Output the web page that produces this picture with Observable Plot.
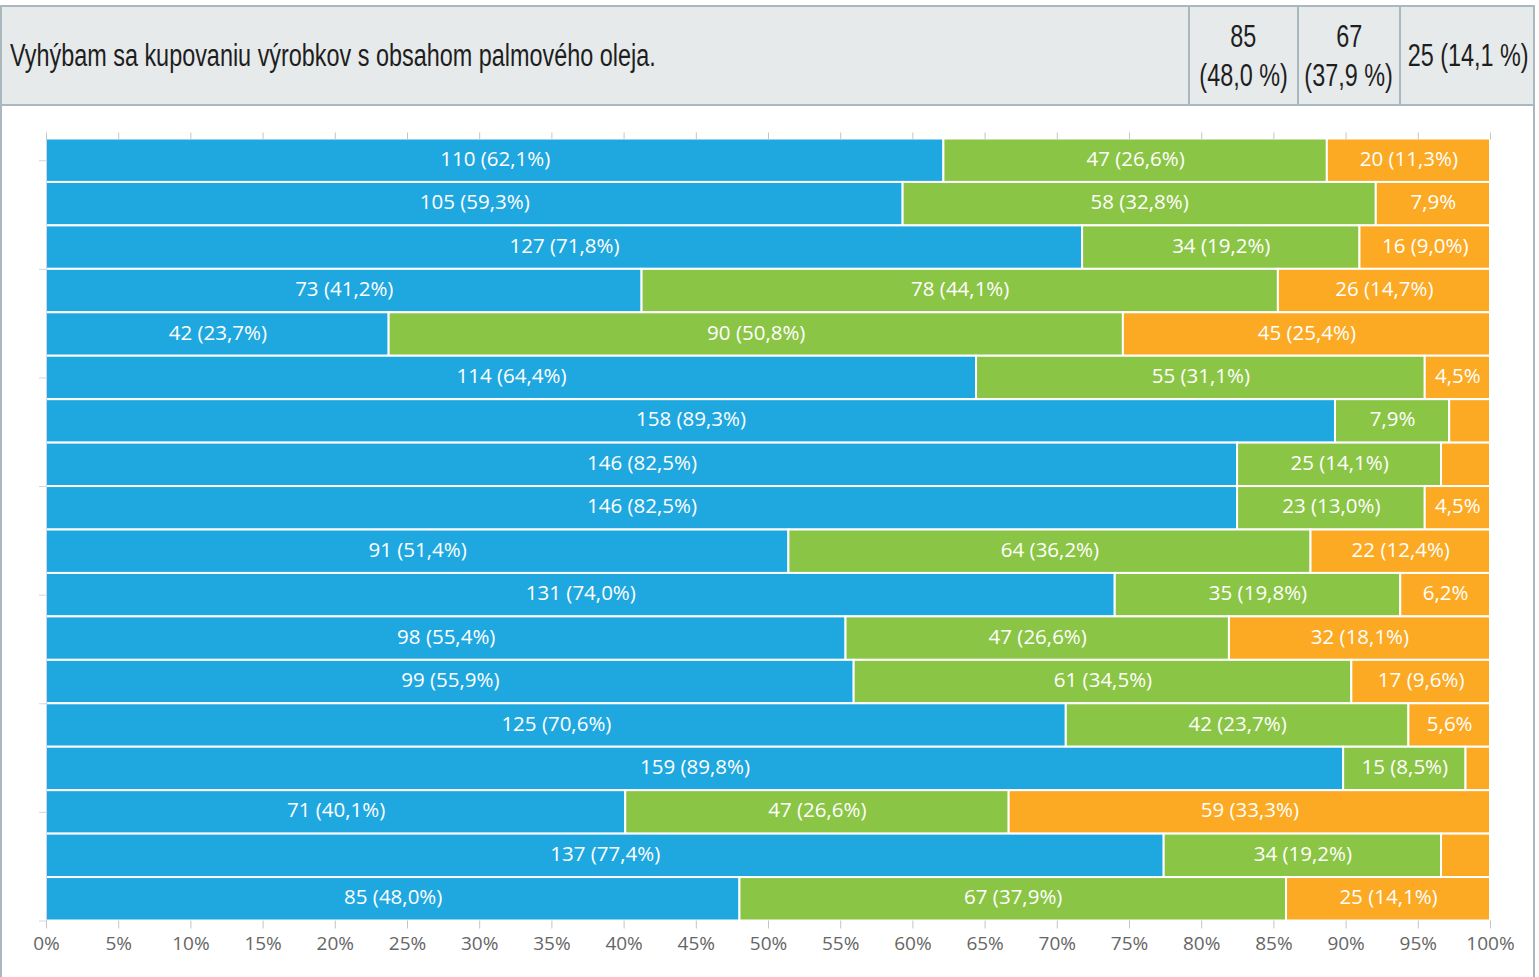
<!DOCTYPE html>
<html>
<head>
<meta charset="utf-8">
<script src="https://cdn.jsdelivr.net/npm/d3@7"></script>
<script src="https://cdn.jsdelivr.net/npm/@observablehq/plot@0.6"></script>
<style>
  html, body { margin: 0; padding: 0; background: #fff; }
  body { width: 1539px; height: 977px; position: relative; overflow: hidden; }
  .frame { position: absolute; left: 0; top: 5px; height: 980px; width: 1535px;
           border-left: 2px solid #a9b8bd; border-right: 2px solid #a9b8bd; border-top: 2px solid #a9b8bd; box-sizing: border-box; }
  .header { position: absolute; left: 0; top: 0; width: 1531px; height: 99px; background: #e6eaeb;
            border-bottom: 2px solid #a9b8bd; box-sizing: border-box; }
  .cell { position: absolute; top: 0; height: 97px; display: flex; align-items: center;
          font-family: "Liberation Sans", sans-serif; color: #1e1e1e; font-size: 31px; line-height: 39px; }
  .sep { border-left: 2px solid #a9b8bd; justify-content: center; text-align: center; }
  .line { display: block; white-space: nowrap; }
  .sq { display: inline-block; white-space: nowrap; transform-origin: center center; }
  #q .sq { transform-origin: left center; }
  #chart { position: absolute; left: 0; top: 99px; }
</style>
</head>
<body>
<div class="frame">
  <div class="header">
    <div class="cell" id="q" style="left:8px;width:1178px;"></div>
    <div class="cell sep" id="c1" style="left:1186px;width:107px;"></div>
    <div class="cell sep" id="c2" style="left:1295px;width:100px;"></div>
    <div class="cell sep" id="c3" style="left:1397px;width:134px;"></div>
  </div>
  <div id="chart"></div>
</div>
<script>
const question = "Vyhýbam sa kupovaniu výrobkov s obsahom palmového oleja.";
const answerA = [110,105,127,73,42,114,158,146,146,91,131,98,99,125,159,71,137,85];
const answerB = [47,58,34,78,90,55,14,25,23,64,35,47,61,42,15,47,34,67];
const answerC = [20,14,16,26,45,8,5,6,8,22,11,32,17,10,3,59,6,25];
const seriesNames = ["A","B","C"];
const seriesColors = ["#1fa8df","#8bc545","#fca923"];
const xTicks = d3.range(0, 101, 5);
const yTicks = [0.5, 3, 5.5, 8, 10.5, 13, 15.5, 18];

const fmt = v => v.toFixed(1).replace(".", ",");

const segments = [];
answerA.forEach((a, i) => {
  const vals = [a, answerB[i], answerC[i]];
  const total = d3.sum(vals);
  let cum = 0;
  vals.forEach((v, k) => {
    const p = v / total * 100;
    const label = p >= 8.2 ? `${v} (${fmt(p)}%)` : p >= 4 ? `${fmt(p)}%` : "";
    segments.push({row: i, series: seriesNames[k], x1: cum, x2: cum + p, label, v, p});
    cum += p;
  });
});

// header (condensed look: horizontally squeezed text)
const SQ = 0.755;
const sq = t => `<span class="sq" style="transform:scaleX(${SQ})">${t}</span>`;
document.getElementById("q").innerHTML = sq(question);
const last = answerA.length - 1;
const lastVals = [answerA[last], answerB[last], answerC[last]];
const lastTotal = d3.sum(lastVals);
const hdr = lastVals.map(v => ({v, p: fmt(v / lastTotal * 100)}));
document.getElementById("c1").innerHTML = `<div><span class="line">${sq(hdr[0].v)}</span><span class="line">${sq("(" + hdr[0].p + " %)")}</span></div>`;
document.getElementById("c2").innerHTML = `<div><span class="line">${sq(hdr[1].v)}</span><span class="line">${sq("(" + hdr[1].p + " %)")}</span></div>`;
document.getElementById("c3").innerHTML = `<div><span class="line">${sq(hdr[2].v + " (" + hdr[2].p + " %)")}</span></div>`;

const chart = Plot.plot({
  width: 1531,
  height: 872,
  marginLeft: 44,
  marginRight: 43,
  marginTop: 32.5,
  marginBottom: 57.5,
  style: {fontFamily: "'Open Sans', sans-serif", fontSize: "19px", background: "transparent", overflow: "visible"},
  x: {domain: [0, 100]},
  y: {domain: [0, 18], reverse: true},
  color: {domain: seriesNames, range: seriesColors},
  marks: [
    Plot.rect(segments, {x1: "x1", x2: "x2", y1: d => d.row, y2: d => d.row + 1, fill: "series", stroke: "white", strokeWidth: 2}),
    Plot.ruleX([0], {stroke: "#ccd6eb"}),
    Plot.text(segments, {x: d => (d.x1 + d.x2) / 2, y: d => d.row + 0.5, text: "label", fill: "white", fontSize: 20.5, dy: -1.5}),
    Plot.axisX({anchor: "top", ticks: xTicks, tickFormat: () => "", tickSize: 7, stroke: "#c4c4c4", label: null}),
    Plot.axisX({anchor: "bottom", ticks: xTicks, tickFormat: d => d + "%", tickSize: 8, tickPadding: 7, stroke: "#c4c4c4", fill: "#666", fontSize: 19, label: null}),
    Plot.axisY({ticks: yTicks, tickFormat: () => "", tickSize: 7, stroke: "#ccd6eb", label: null})
  ]
});
document.getElementById("chart").appendChild(chart);
</script>
</body>
</html>
